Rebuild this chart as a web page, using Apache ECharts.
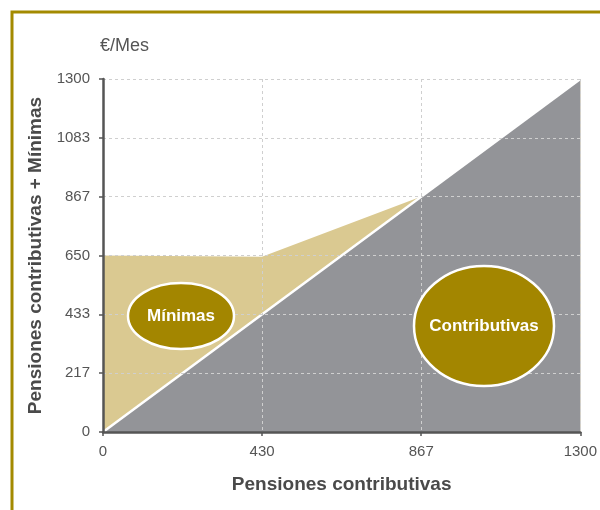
<!DOCTYPE html>
<html>
<head>
<meta charset="utf-8">
<script src="https://cdn.jsdelivr.net/npm/echarts@6/dist/echarts.min.js"></script>
<style>
  html, body { margin: 0; padding: 0; background: #fff; }
  #chart { width: 600px; height: 510px; }
</style>
</head>
<body>
<div id="chart"></div>
<script>
// datos del grafico
const xTickLabels = ['0', '430', '867', '1300']
const minimasLine = [[0, 650], [433, 645], [867, 867], [1300, 1300]]
const contributivasLine = [[0, 0], [1300, 1300]]
const axisMax = 1300

const font = "'Liberation Sans', 'DejaVu Sans', sans-serif"
const chart = echarts.init(document.getElementById('chart'))

var option = {
  backgroundColor: '#ffffff',
  animation: false,
  grid: { left: 103, top: 79, right: 14, bottom: 78 },
  xAxis: {
    type: 'value', min: 0, max: axisMax, interval: axisMax / 3, z: 5,
    axisLine: { lineStyle: { color: '#555', width: 2.5 } },
    axisTick: { show: true, length: 4, lineStyle: { color: '#555', width: 1.5 } },
    axisLabel: {
      color: '#555', fontFamily: font, fontSize: 15, margin: 12,
      formatter: function (v) { return xTickLabels[Math.round(v / (axisMax / 3))] }
    },
    splitLine: { show: true, lineStyle: { color: '#cfcfcf', type: [3, 3], width: 1 } },
    name: 'Pensiones contributivas', nameLocation: 'middle', nameGap: 43,
    nameTextStyle: { color: '#4a4a4a', fontFamily: font, fontSize: 19, fontWeight: 'bold' }
  },
  yAxis: {
    type: 'value', min: 0, max: axisMax, interval: axisMax / 6, z: 5,
    axisLine: { show: true, lineStyle: { color: '#555', width: 2.5 } },
    axisTick: { show: true, length: 4, lineStyle: { color: '#555', width: 1.5 } },
    axisLabel: {
      color: '#555', fontFamily: font, fontSize: 15, margin: 13,
      formatter: function (v) { return String(Math.round(v)) }
    },
    splitLine: { show: true, lineStyle: { color: '#cfcfcf', type: [3, 3], width: 1 } },
    name: 'Pensiones contributivas + Mínimas', nameLocation: 'middle', nameGap: 48,
    nameTextStyle: { color: '#4a4a4a', fontFamily: font, fontSize: 19, fontWeight: 'bold' }
  },
  series: [
    {
      // minimas
      type: 'line', data: minimasLine, symbol: 'none', z: 1,
      lineStyle: { width: 0 },
      areaStyle: { color: '#dac991', opacity: 1 }
    },
    {
      // contributivas
      type: 'line', data: contributivasLine, symbol: 'none', z: 2,
      lineStyle: { color: '#ffffff', width: 2.5 },
      areaStyle: { color: '#939498', opacity: 1 }
    }
  ],
  graphic: [
    { type: 'rect', x: 12, y: 12, shape: { width: 610, height: 520 }, style: { fill: 'none', stroke: '#a38a00', lineWidth: 3 } },
    { type: 'text', x: 100, y: 37, style: { text: '€/Mes', fill: '#555', font: '18px ' + font } },
    {
      type: 'ellipse', shape: { cx: 181, cy: 316, rx: 53, ry: 33 }, z: 10,
      style: { fill: '#a38600', stroke: '#fff', lineWidth: 2.5 }
    },
    {
      type: 'text', x: 181, y: 316, z: 11,
      style: { text: 'Mínimas', fill: '#fff', font: 'bold 17px ' + font, align: 'center', verticalAlign: 'middle' }
    },
    {
      type: 'ellipse', shape: { cx: 484, cy: 326, rx: 70, ry: 60 }, z: 10,
      style: { fill: '#a38600', stroke: '#fff', lineWidth: 2.5 }
    },
    {
      type: 'text', x: 484, y: 326, z: 11,
      style: { text: 'Contributivas', fill: '#fff', font: 'bold 17px ' + font, align: 'center', verticalAlign: 'middle' }
    }
  ]
}

chart.setOption(option)
</script>
</body>
</html>
